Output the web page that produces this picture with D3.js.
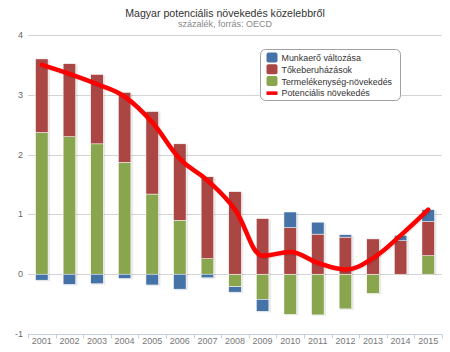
<!DOCTYPE html>
<html>
<head>
<meta charset="utf-8">
<script src="https://cdn.jsdelivr.net/npm/d3@7"></script>
<style>
  body { margin: 0; background: #fff; }
  svg { display: block; font-family: "Liberation Sans", Arial, sans-serif; }
</style>
</head>
<body>
<div id="chart"></div>
<script>
const years = ["2001","2002","2003","2004","2005","2006","2007","2008","2009","2010","2011","2012","2013","2014","2015"];
const munkaero = [-0.10,-0.17,-0.16,-0.07,-0.18,-0.25,-0.06,-0.09,-0.20,0.26,0.20,0.04,0.00,0.09,0.20];
const toke = [1.23,1.22,1.16,1.17,1.38,1.28,1.37,1.38,0.93,0.78,0.67,0.62,0.59,0.56,0.57];
const termelekenyseg = [2.37,2.30,2.18,1.87,1.34,0.90,0.26,-0.21,-0.42,-0.67,-0.68,-0.58,-0.32,0.00,0.31];
const potencialis = [3.50,3.35,3.18,2.97,2.54,1.93,1.57,1.08,0.31,0.37,0.19,0.08,0.27,0.65,1.08];
const yTicks = [-1, 0, 1, 2, 3, 4];

const seriesNames = ["Munkaerő változása", "Tőkeberuházások", "Termelékenység-növekedés", "Potenciális növekedés"];
const colors = {"munkaero": "#4572A7", "toke": "#AA4643", "termel": "#89A54E", "line": "#FF0000"};

const width = 450, height = 352;
const margin = {top: 35, right: 8, bottom: 18, left: 28};

const svg = d3.select("#chart").append("svg")
    .attr("width", width)
    .attr("height", height);

const x = d3.scaleBand()
    .domain(years)
    .range([margin.left, width - margin.right]);

const y = d3.scaleLinear()
    .domain([-1, 4])
    .range([height - margin.bottom, margin.top]);

// title
svg.append("text")
    .attr("x", width / 2)
    .attr("y", 17)
    .attr("text-anchor", "middle")
    .style("font-size", "10.6px")
    .style("fill", "#333")
    .text("Magyar potenciális növekedés közelebbről");

svg.append("text")
    .attr("x", width / 2)
    .attr("y", 27)
    .attr("text-anchor", "middle")
    .style("font-size", "9px")
    .style("fill", "#888")
    .text("százalék, forrás: OECD");

// grid
svg.append("g")
    .selectAll("line")
    .data(yTicks.filter(d => d > -1))
    .join("line")
        .attr("x1", margin.left)
        .attr("x2", width - margin.right)
        .attr("y1", d => Math.round(y(d)) + 0.5)
        .attr("y2", d => Math.round(y(d)) + 0.5)
        .style("stroke", "#d4d4d4")
        .style("stroke-width", 1);

// y labels
svg.append("g")
    .selectAll("text")
    .data(yTicks)
    .join("text")
        .attr("x", 23)
        .attr("y", d => y(d) + 3)
        .attr("text-anchor", "end")
        .style("font-size", "9px")
        .style("fill", "#666")
        .text(d => d);

// x axis
const xAxisY = Math.round(y(-1)) + 0.5;
svg.append("line")
    .attr("x1", margin.left)
    .attr("x2", width - margin.right)
    .attr("y1", xAxisY)
    .attr("y2", xAxisY)
    .style("stroke", "#C0D0E0");

svg.append("g")
    .selectAll("line")
    .data(years.map(d => x(d)).concat([x.range()[1]]))
    .join("line")
        .attr("x1", d => Math.round(d) + 0.5)
        .attr("x2", d => Math.round(d) + 0.5)
        .attr("y1", xAxisY)
        .attr("y2", xAxisY + 4)
        .style("stroke", "#C0D0E0");

svg.append("g")
    .selectAll("text")
    .data(years)
    .join("text")
        .attr("x", d => x(d) + x.bandwidth() / 2)
        .attr("y", 344)
        .attr("text-anchor", "middle")
        .style("font-size", "9px")
        .style("fill", "#777")
        .text(d => d);

// stacked bars
const table = years.map((yr, i) => ({
    year: yr,
    termel: termelekenyseg[i],
    toke: toke[i],
    munkaero: munkaero[i]
}));

const stack = d3.stack()
    .keys(["termel", "toke", "munkaero"])
    .offset(d3.stackOffsetDiverging);

const layers = stack(table);
const barW = 12.5;

const barG = svg.append("g");

// shadows
const extents = table.map((d, i) => {
    let lo = 0, hi = 0;
    layers.forEach(l => { lo = Math.min(lo, l[i][0], l[i][1]); hi = Math.max(hi, l[i][0], l[i][1]); });
    return {year: d.year, lo, hi};
});

barG.selectAll(".shadow")
    .data(extents)
    .join("rect")
        .attr("class", "shadow")
        .attr("x", d => x(d.year) + x.bandwidth() / 2 - barW / 2 + 1)
        .attr("y", d => y(d.hi) + 1)
        .attr("width", barW + 1)
        .attr("height", d => y(d.lo) - y(d.hi))
        .style("fill", "rgba(0,0,0,0.09)");

layers.forEach(layer => {
    barG.append("g")
        .selectAll("rect")
        .data(layer.filter(d => d[1] !== d[0]))
        .join("rect")
            .attr("x", d => x(d.data.year) + x.bandwidth() / 2 - barW / 2)
            .attr("y", d => y(Math.max(d[0], d[1])))
            .attr("width", barW)
            .attr("height", d => Math.abs(y(d[0]) - y(d[1])))
            .style("fill", colors[layer.key])
            .style("stroke", "#fff")
            .style("stroke-width", 0.5);
});

// Highcharts-style spline
function splinePath(pts) {
    const sm = 1.5, den = sm + 1;
    const conts = pts.map((p, i) => {
        const prev = pts[i - 1], next = pts[i + 1];
        if (!prev || !next) return null;
        let lx = (sm * p[0] + prev[0]) / den, ly = (sm * p[1] + prev[1]) / den;
        let rx = (sm * p[0] + next[0]) / den, ry = (sm * p[1] + next[1]) / den;
        const corr = ((ry - ly) * (rx - p[0])) / (rx - lx) + p[1] - ry;
        ly += corr; ry += corr;
        if (ly > prev[1] && ly > p[1]) { ly = Math.max(prev[1], p[1]); ry = 2 * p[1] - ly; }
        else if (ly < prev[1] && ly < p[1]) { ly = Math.min(prev[1], p[1]); ry = 2 * p[1] - ly; }
        if (ry > next[1] && ry > p[1]) { ry = Math.max(next[1], p[1]); ly = 2 * p[1] - ry; }
        else if (ry < next[1] && ry < p[1]) { ry = Math.min(next[1], p[1]); ly = 2 * p[1] - ry; }
        return {lx, ly, rx, ry};
    });
    let d = `M${pts[0][0]},${pts[0][1]}`;
    for (let i = 1; i < pts.length; i++) {
        const a = conts[i - 1], b = conts[i];
        const c1 = a ? [a.rx, a.ry] : pts[i - 1];
        const c2 = b ? [b.lx, b.ly] : pts[i];
        d += `C${c1[0]},${c1[1]} ${c2[0]},${c2[1]} ${pts[i][0]},${pts[i][1]}`;
    }
    return d;
}

const linePts = years.map((yr, i) => [x(yr) + x.bandwidth() / 2, y(potencialis[i])]);

svg.append("path")
    .attr("d", splinePath(linePts))
    .attr("transform", "translate(1,1)")
    .style("fill", "none")
    .style("stroke", "rgba(0,0,0,0.08)")
    .style("stroke-width", 5);

svg.append("path")
    .attr("d", splinePath(linePts))
    .style("fill", "none")
    .style("stroke", colors.line)
    .style("stroke-width", 4.5)
    .style("stroke-linejoin", "round")
    .style("stroke-linecap", "round");

// legend
const lg = svg.append("g").attr("transform", "translate(260.5,49.5)");
lg.append("rect")
    .attr("width", 140)
    .attr("height", 51)
    .attr("rx", 5)
    .style("fill", "#fff")
    .style("stroke", "#a0a0a0");

const legendColors = [colors.munkaero, colors.toke, colors.termel, colors.line];
const items = lg.selectAll(".item")
    .data(seriesNames)
    .join("g")
        .attr("class", "item")
        .attr("transform", (d, i) => `translate(6,${8 + i * 11.8})`);

items.append("rect")
    .attr("x", 0)
    .attr("y", (d, i) => i === 3 ? -1.5 : -5)
    .attr("width", 11)
    .attr("height", (d, i) => i === 3 ? 3.5 : 10)
    .attr("rx", (d, i) => i === 3 ? 0 : 2)
    .style("fill", (d, i) => legendColors[i]);

items.append("text")
    .attr("x", 15)
    .attr("y", 3.5)
    .style("font-size", "8.9px")
    .style("fill", "#333")
    .text(d => d);
</script>
</body>
</html>
